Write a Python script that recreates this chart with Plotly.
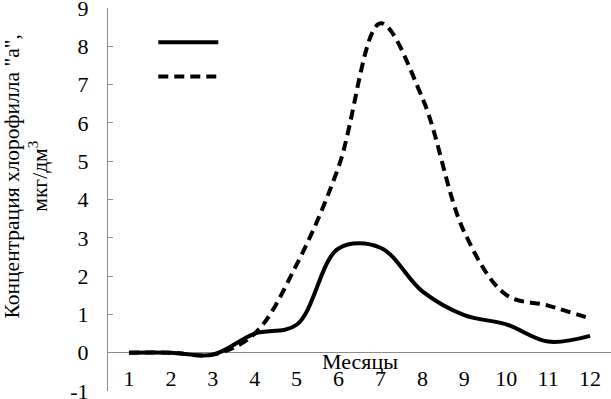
import plotly.graph_objects as go

months = [1, 2, 3, 4, 5, 6, 7, 8, 9, 10, 11, 12]
tick_labels = ["1", "2", "3", "4", "5", "6", "7", "8", "9", "10", "11", "12"]
y_ticks = [-1, 0, 1, 2, 3, 4, 5, 6, 7, 8, 9]
y_tick_labels = ["-1", "0", "1", "2", "3", "4", "5", "6", "7", "8", "9"]
series_solid = [0.0, 0.0, -0.05, 0.5, 0.73, 2.72, 2.74, 1.6, 0.98, 0.74, 0.29, 0.44]
series_dashed = [0.0, 0.0, -0.05, 0.5, 2.3, 4.85, 8.6, 6.65, 3.15, 1.51, 1.23, 0.89]

FONT = "Liberation Serif"

fig = go.Figure()
fig.add_trace(go.Scatter(x=months, y=series_solid, mode="lines", name="",
                         line=dict(color="black", width=4, shape="spline", smoothing=1.0)))
fig.add_trace(go.Scatter(x=months, y=series_dashed, mode="lines", name="",
                         line=dict(color="black", width=4, shape="spline", smoothing=1.0,
                                   dash="10px,6px")))

fig.update_layout(
    width=611, height=399,
    margin=dict(l=108, r=0, t=8, b=8, autoexpand=False),
    paper_bgcolor="white", plot_bgcolor="white",
    font=dict(family=FONT, color="black", size=22),
    showlegend=True,
    legend=dict(x=0.09, y=0.968, xanchor="left", yanchor="top",
                bgcolor="rgba(0,0,0,0)", font=dict(size=24, family=FONT), itemwidth=60),
    xaxis=dict(range=[0.5, 12.5], tickmode="array", tickvals=months, ticktext=tick_labels,
               showline=False, showgrid=False, zeroline=False, ticks="", automargin=False,
               ticklabelposition="outside", ticklabelstandoff=-28, ticklabeloverflow="allow",
               tickfont=dict(size=22, family=FONT)),
    yaxis=dict(range=[-1.0001, 9.0001], tickmode="array", tickvals=y_ticks, ticktext=y_tick_labels,
               showline=True, linecolor="#8c8c8c", linewidth=1,
               ticks="inside", ticklen=5, tickcolor="#8c8c8c", showgrid=False,
               zeroline=True, zerolinecolor="#8c8c8c", zerolinewidth=1, automargin=False,
               ticklabeloverflow="allow",
               ticklabelstandoff=14, tickfont=dict(size=22, family=FONT)),
    annotations=[
        dict(text="Месяцы", xref="paper", yref="y", x=0.5, y=0, xanchor="center", yanchor="top",
             yshift=6, showarrow=False, font=dict(size=22, family=FONT)),
        dict(text="Концентрация хлорофилла \"а\",<br>мкг/дм<sup>3</sup>", textangle=-90,
             xref="paper", yref="paper", x=-0.164, y=0.559, xanchor="center", yanchor="middle",
             showarrow=False, font=dict(size=21.5, family=FONT)),
    ],
)

fig.write_html("out.html", config={"displayModeBar": False},
               post_script="document.body.style.margin='0';")
